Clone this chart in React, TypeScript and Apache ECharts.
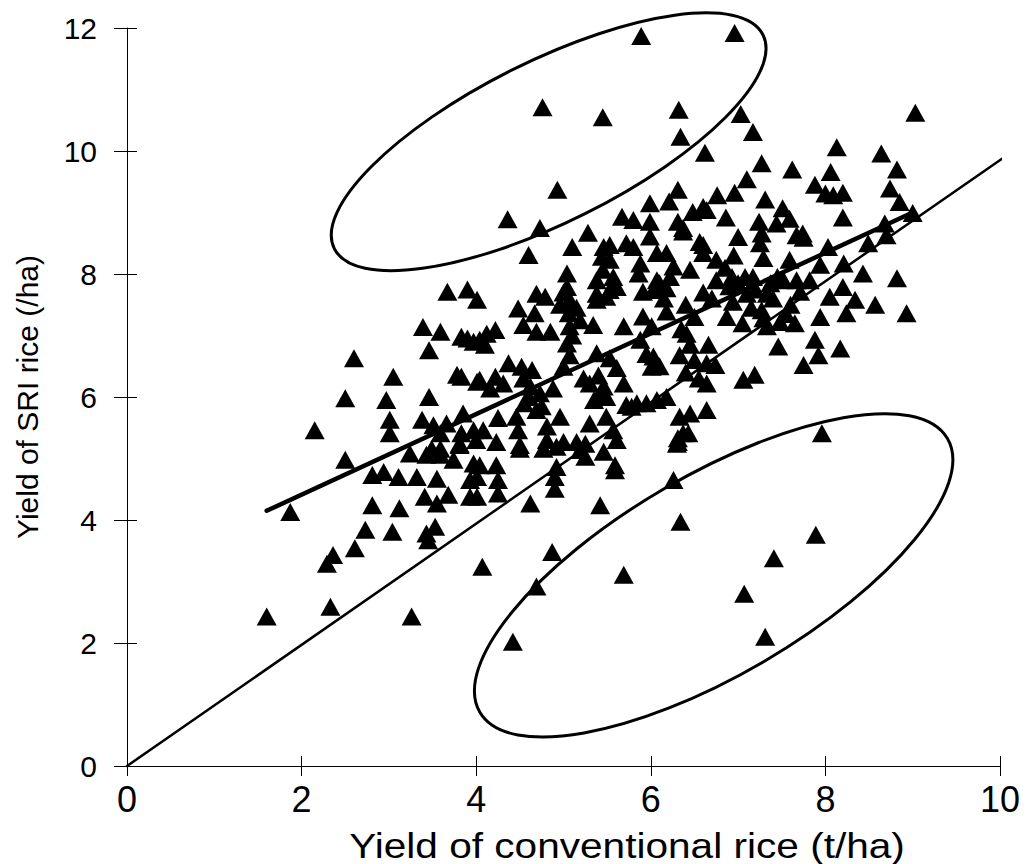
import React, { useEffect, useRef } from "react";
import * as echarts from "echarts";

// ---- data (t/ha) ----
const xTicks = [0, 2, 4, 6, 8, 10];
const yTicks = [0, 2, 4, 6, 8, 10, 12];

const upperOutliers = [
  [5.89, 11.87], [6.96, 11.92], [4.76, 10.71], [5.45, 10.55], [6.32, 10.67], [6.34, 10.23],
  [6.62, 9.97], [4.93, 9.37], [4.36, 8.89], [4.73, 8.75], [7.03, 10.6], [7.17, 10.31],
  [9.03, 10.62], [8.13, 10.06], [8.64, 9.96],
];

const lowerOutliers = [
  [7.89, 3.76], [7.41, 3.38], [7.07, 2.8], [7.31, 2.1], [6.26, 4.65], [6.34, 3.97],
  [4.87, 3.48], [4.07, 3.24], [5.69, 3.11], [4.69, 2.92], [4.42, 2.02], [7.96, 5.41],
];

const upperCloud = [
  [6.31, 9.37], [6.21, 9.18], [5.99, 9.15], [6.48, 9.01], [5.67, 8.93], [5.8, 8.88], [5.99, 8.85],
  [6.31, 8.85], [6.37, 8.75], [5.28, 8.67], [6.6, 9.09], [7.27, 9.8], [7.62, 9.7], [8.82, 9.7],
  [8.06, 9.66], [7.1, 9.54], [7.88, 9.45], [6.76, 9.28], [6.96, 9.32], [8.0, 9.31], [8.09, 9.28],
  [8.2, 9.32], [8.74, 9.39], [7.31, 9.21], [6.64, 9.04], [6.86, 8.92], [8.85, 9.17], [7.51, 9.07],
  [7.59, 8.9], [8.2, 8.92], [7.24, 8.85], [7.44, 8.82], [9.0, 8.99], [8.68, 8.82], [7.27, 8.66],
  [7.74, 8.66],
];

const rightCloud = [
  [8.7, 8.63], [8.49, 8.5], [8.03, 8.44], [7.25, 8.5], [7.29, 8.26], [7.67, 8.63], [7.75, 8.59],
  [7.59, 8.23], [6.6, 8.47], [6.75, 8.23], [8.21, 8.17], [7.94, 8.15], [8.43, 8.01], [8.82, 7.93],
  [6.93, 7.95], [7.08, 7.95], [7.17, 7.95], [6.75, 7.9], [7.37, 7.85], [7.52, 7.9], [7.67, 7.9],
  [7.82, 7.9], [8.2, 7.79], [8.05, 7.63], [8.34, 7.58], [8.57, 7.5], [7.1, 7.68], [7.33, 7.68],
  [7.71, 7.71], [6.94, 7.55], [8.93, 7.36], [8.24, 7.36], [7.94, 7.3], [6.87, 7.3], [7.27, 7.41],
  [7.29, 7.28], [7.48, 7.22], [7.65, 7.2], [7.33, 7.15], [7.88, 6.93], [8.17, 6.79], [7.46, 6.82],
  [7.92, 6.68], [7.75, 6.52], [6.66, 6.85], [6.64, 6.55], [6.74, 6.52], [6.64, 6.22], [7.19, 6.36],
  [7.06, 6.28], [6.64, 5.79], [6.85, 8.1], [6.95, 8.3], [7.0, 8.6], [6.7, 7.6], [6.9, 7.8],
  [7.05, 7.2], [6.5, 7.3], [6.6, 7.7], [6.4, 7.5], [7.0, 7.85], [7.2, 7.75], [7.45, 7.95],
  [7.4, 7.6], [7.6, 7.5], [7.15, 7.45], [7.55, 7.35],
];

const centreCloud = [
  [4.6, 8.31], [5.1, 8.44], [5.46, 8.44], [5.53, 8.47], [5.72, 8.5], [5.8, 8.44], [5.99, 8.61],
  [6.07, 8.34], [6.18, 8.34], [6.37, 8.69], [6.56, 8.52], [6.6, 8.34], [6.45, 8.07], [6.26, 8.12],
  [5.44, 8.28], [5.53, 8.23], [5.88, 8.17], [5.86, 8.01], [5.04, 8.01], [5.04, 7.79], [5.38, 7.9],
  [5.57, 7.95], [5.53, 7.74], [5.38, 7.68], [5.91, 7.71], [6.03, 7.74], [6.18, 7.77], [6.22, 7.95],
  [6.07, 7.9], [4.69, 7.68], [4.79, 7.63], [4.96, 7.5], [5.07, 7.58], [5.06, 7.36], [5.19, 7.25],
  [5.34, 7.17], [5.07, 7.15], [4.48, 7.44], [4.67, 7.36], [4.54, 7.17], [4.69, 7.06], [4.85, 7.06],
  [5.69, 7.15], [5.91, 7.31], [6.01, 7.15], [5.88, 6.93], [6.18, 7.39], [6.41, 7.03], [6.45, 6.85],
  [6.33, 6.68], [6.03, 6.66], [6.01, 6.49], [4.22, 7.09], [4.12, 7.03], [4.04, 6.93], [5.04, 6.87],
  [5.07, 6.68], [5.38, 6.71], [5.53, 6.63], [5.61, 6.47], [5.0, 6.49], [4.37, 6.55], [4.52, 6.49],
  [4.64, 6.44], [4.54, 6.3], [4.62, 6.17], [4.04, 6.28], [4.22, 6.33], [4.31, 6.22], [4.16, 6.14],
  [4.73, 6.06], [4.88, 6.14], [5.23, 6.3], [5.3, 6.22], [5.46, 6.17], [5.49, 6.0], [5.69, 6.22],
  [5.72, 5.87], [5.84, 5.9], [5.95, 5.9], [6.07, 5.95], [6.18, 6.0], [6.33, 5.68], [6.45, 5.73],
  [6.37, 5.41], [6.3, 5.24], [4.69, 5.79], [4.96, 5.68], [4.81, 5.52], [5.3, 5.57], [5.49, 5.68],
  [5.57, 5.46], [5.61, 5.3], [4.25, 5.66], [4.46, 5.68], [4.48, 5.46], [4.08, 5.46], [4.0, 5.3],
  [4.81, 5.3], [5.0, 5.27], [5.15, 5.27], [5.25, 5.24], [4.5, 5.22], [6.43, 5.41], [6.31, 5.33],
  [5.78, 5.84], [5.45, 8.07], [5.61, 7.79], [5.49, 7.63], [5.38, 7.58], [5.0, 7.7], [5.15, 7.45],
  [5.1, 7.0], [6.1, 7.85], [6.15, 7.6], [6.35, 7.1], [6.5, 6.6], [6.55, 6.3], [6.4, 6.4],
  [5.95, 6.7], [6.1, 6.5], [5.4, 6.35], [5.42, 6.05], [5.35, 5.95], [4.6, 6.0], [4.75, 5.85],
  [4.55, 5.9], [3.9, 6.95], [4.1, 6.85],
];

const lowerCloud = [
  [4.62, 4.27], [5.42, 4.24], [4.9, 4.51], [4.9, 4.7], [4.92, 4.86], [5.59, 4.81], [5.59, 4.89],
  [5.46, 5.11], [5.25, 5.03], [5.19, 5.14], [4.01, 4.38], [4.25, 4.43], [4.25, 4.65], [4.23, 4.89],
  [4.04, 4.89], [4.5, 5.16], [4.77, 5.16], [4.92, 5.19], [4.23, 5.27], [6.31, 5.27], [3.93, 4.65],
];

const leftCloud = [
  [1.6, 2.43], [2.33, 2.59], [3.26, 2.43], [1.87, 4.13], [2.29, 3.29], [2.36, 3.43], [2.61, 3.54],
  [2.73, 3.84], [3.04, 3.81], [2.81, 4.24], [3.12, 4.19], [2.5, 4.98], [2.81, 4.73], [2.94, 4.78],
  [3.11, 4.7], [3.32, 4.7], [3.43, 3.78], [3.53, 3.89], [3.45, 3.67], [3.55, 4.67], [3.41, 4.38],
  [3.55, 4.27], [3.68, 4.41], [3.24, 5.08], [3.43, 5.06], [3.59, 5.06], [3.74, 4.98], [3.81, 5.22],
  [3.93, 4.38], [4.01, 4.7], [3.97, 4.92], [2.15, 5.46], [2.5, 5.98], [2.6, 6.63], [2.97, 5.95],
  [3.01, 5.63], [3.01, 5.41], [3.05, 6.33], [3.46, 6.0], [3.39, 7.14], [3.59, 7.06], [3.46, 6.76],
  [3.67, 7.71], [3.9, 7.75], [4.01, 7.58], [3.83, 6.98], [3.97, 6.9], [3.78, 6.36], [3.83, 6.33],
  [4.01, 6.25], [3.38, 5.63], [3.51, 5.54], [3.66, 5.57], [3.85, 5.73], [3.59, 5.41], [3.83, 5.41],
  [3.49, 5.16], [3.59, 5.16], [3.81, 5.24], [3.97, 5.46],
];

const oneToOneLine = [[0, 0], [10.15, 10.0]];
const regressionLine = [[1.6, 4.15], [9.0, 9.0]];
const ellipseCentres = [[4.83, 10.15], [6.72, 3.1]];

// ---- styles ----
const ELLIPSE_STYLE = [
  { rx: 239.5, ry: 80.6, rot: (26.5 * Math.PI) / 180 },
  { rx: 270.9, ry: 99.8, rot: (30.35 * Math.PI) / 180 },
];
const FONT = "'Liberation Sans', Arial, Helvetica, sans-serif";

export default function App() {
  const ref = useRef<HTMLDivElement>(null);
  useEffect(() => {
    if (!ref.current) return;
    const chart = echarts.init(ref.current, null, { renderer: "svg" });
    const points = [
      ...upperOutliers, ...lowerOutliers, ...upperCloud, ...rightCloud,
      ...centreCloud, ...lowerCloud, ...leftCloud,
    ];
    const baseX = {
      type: "value", min: xTicks[0], max: xTicks[xTicks.length - 1], interval: 2,
      splitLine: { show: false },
    };
    const baseY = {
      type: "value", min: yTicks[0], max: yTicks[yTicks.length - 1], interval: 2,
      splitLine: { show: false },
    };
    chart.setOption({
      animation: false,
      backgroundColor: "#fff",
      grid: { left: 127, right: 28, top: 28, bottom: 98, containLabel: false },
      xAxis: [
        {
          ...baseX,
          axisLine: { show: true, lineStyle: { color: "#000", width: 1 } },
          axisTick: { show: true, inside: false, length: 10, lineStyle: { color: "#000" } },
          axisLabel: { color: "#000", fontSize: 36, fontFamily: FONT, margin: 15 },
        },
        {
          ...baseX,
          position: "bottom",
          axisLine: { show: false },
          axisTick: { show: true, inside: true, length: 10, lineStyle: { color: "#000" } },
          axisLabel: { show: false },
        },
      ],
      yAxis: [
        {
          ...baseY,
          axisLine: { show: true, lineStyle: { color: "#000", width: 1 } },
          axisTick: { show: true, inside: false, length: 13, lineStyle: { color: "#000" } },
          axisLabel: { color: "#000", fontSize: 30, fontFamily: FONT, margin: 30 },
        },
        {
          ...baseY,
          position: "left",
          axisLine: { show: false },
          axisTick: { show: true, inside: true, length: 10, lineStyle: { color: "#000" } },
          axisLabel: { show: false },
        },
      ],
      graphic: [
        {
          type: "text",
          x: 627,
          y: 846,
          scaleX: 1.16,
          style: {
            text: "Yield of conventional rice (t/ha)", fill: "#000",
            font: `35px ${FONT}`, textAlign: "center", textVerticalAlign: "middle",
          },
        },
        {
          type: "text",
          x: 27,
          y: 397,
          rotation: Math.PI / 2,
          style: {
            text: "Yield of SRI rice (/ha)", fill: "#000",
            font: `30px ${FONT}`, textAlign: "center", textVerticalAlign: "middle",
          },
        },
      ],
      series: [
        {
          type: "scatter",
          data: points,
          symbol: "triangle",
          symbolSize: [20, 18],
          itemStyle: { color: "#000", opacity: 1 },
          z: 2,
        },
        {
          type: "line",
          data: oneToOneLine,
          showSymbol: false,
          clip: false,
          lineStyle: { color: "#000", width: 2.5, cap: "round" },
          z: 3,
        },
        {
          type: "line",
          data: regressionLine,
          showSymbol: false,
          clip: false,
          lineStyle: { color: "#000", width: 4.5, cap: "round" },
          z: 3,
        },
        {
          type: "custom",
          data: ellipseCentres,
          clip: false,
          z: 4,
          renderItem: (params: any, api: any) => {
            const c = api.coord([api.value(0), api.value(1)]);
            const s = ELLIPSE_STYLE[params.dataIndex];
            return {
              type: "ellipse",
              x: c[0],
              y: c[1],
              rotation: s.rot,
              shape: { cx: 0, cy: 0, rx: s.rx, ry: s.ry },
              style: { fill: "none", stroke: "#000", lineWidth: 3 },
            };
          },
        },
      ],
    });
    return () => chart.dispose();
  }, []);
  return (
    <div
      ref={ref}
      style={{ position: "fixed", left: 0, top: 0, width: 1028, height: 864, background: "#fff" }}
    />
  );
}
